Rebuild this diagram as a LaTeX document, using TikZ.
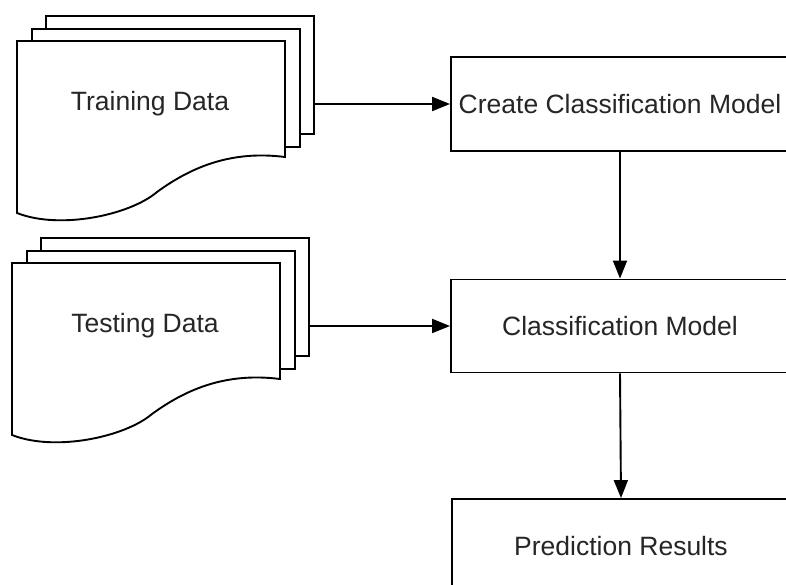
\documentclass[tikz,border=0pt]{standalone}
\usepackage{fontspec}
\setmainfont{Liberation Sans}
\usepackage{tikz}
\usetikzlibrary{arrows.meta, positioning}

% stack of three pages, the front one with a wavy bottom edge
\newcommand{\docstack}[3]{%
  \begin{scope}[shift={(#2)}]
    \node[sheet, anchor=north west] (#1-3) at (28,-26) {};
    \node[sheet, anchor=north west] (#1-2) at (14,-13) {};
    \draw[fill=white] (0,0) -- (268,0) -- (268,116)
      .. controls (213,109) and (173,127) .. (140,151)
      .. controls (113,174) and (43,189) .. (0,172) -- cycle;
    \node (#1) at (133,63) {#3};
  \end{scope}}

\begin{document}
\begin{tikzpicture}[
    x=1pt, y=-1pt,
    line width=1.9pt,
    every node/.style={font=\fontsize{26.5}{30}\selectfont, text=black!85},
    sheet/.style={draw, fill=white, minimum width=268, minimum height=118, inner sep=0pt},
    proc/.style={draw, fill=white, minimum width=338, minimum height=94, inner sep=0pt},
    flow/.style={-{Triangle[length=18pt, width=14pt]}},
  ]
  \clip (0,0) rectangle (786,585);

  \docstack{train}{17,41}{Training Data}
  \docstack{test}{12,263}{Testing Data}

  \node[proc] (create) at (620,104) {Create Classification Model};
  \node[proc, minimum height=93] (model) at (620,326) {Classification Model};
  \node[proc] (result) at (621,546) {Prediction Results};

  \draw[flow] (train-3.east |- create) -- (create);
  \draw[flow] (test-3.east |- model) -- (model);
  \draw[flow] (create.south) -- (model.north);
  \draw[flow] (model.south) -- (result.north);
\end{tikzpicture}
\end{document}
